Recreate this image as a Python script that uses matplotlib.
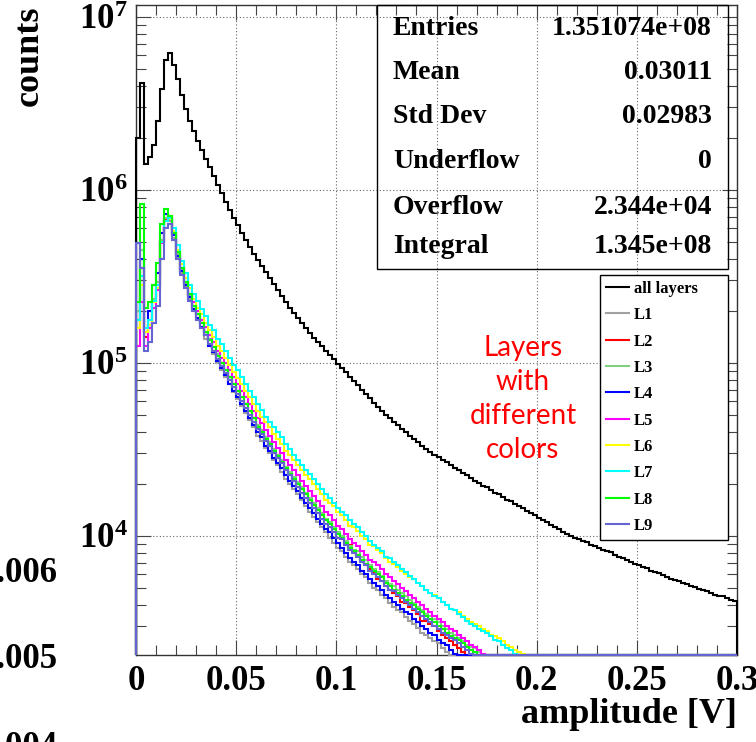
import numpy as np
import matplotlib
matplotlib.use("Agg")
import matplotlib.pyplot as plt
from matplotlib.patches import Rectangle
from matplotlib.ticker import MultipleLocator, LogLocator, FuncFormatter, NullFormatter

plt.rcParams["font.family"] = ["Liberation Serif", "DejaVu Serif"]
plt.rcParams["font.weight"] = "bold"
plt.rcParams["axes.labelweight"] = "bold"
plt.rcParams["mathtext.fontset"] = "custom"
plt.rcParams["mathtext.rm"] = "Liberation Serif:bold"
plt.rcParams["mathtext.it"] = "Liberation Serif:bold:italic"
plt.rcParams["mathtext.bf"] = "Liberation Serif:bold"
plt.rcParams["mathtext.default"] = "rm"

# ---------------------------------------------------------------- data
BIN_WIDTH = 0.002          # V per bin, bins start at 0 V
X_RANGE = (0.0, 0.3)
Y_RANGE = (2.05e3, 1.17e7)

# log10(counts per bin)
log_counts_all = [
    6.30, 6.62, 6.15, 6.19, 6.26, 6.40, 6.58, 6.75, 6.79, 6.72,
    6.64, 6.55, 6.47, 6.40, 6.34, 6.28, 6.23, 6.18, 6.13, 6.08,
    6.03, 5.98, 5.93, 5.885, 5.84, 5.795, 5.75, 5.71, 5.67, 5.63,
    5.595, 5.56, 5.525, 5.49, 5.455, 5.42, 5.385, 5.35, 5.32, 5.29,
    5.26, 5.23, 5.20, 5.17, 5.145, 5.12, 5.095, 5.07, 5.045, 5.02,
    4.995, 4.97, 4.945, 4.92, 4.895, 4.87, 4.845, 4.82, 4.795, 4.77,
    4.745, 4.72, 4.70, 4.68, 4.66, 4.64, 4.62, 4.60, 4.58, 4.56,
    4.54, 4.52, 4.50, 4.485, 4.47, 4.455, 4.44, 4.425, 4.41, 4.395,
    4.38, 4.365, 4.35, 4.335, 4.32, 4.305, 4.29, 4.28, 4.265, 4.25,
    4.24, 4.225, 4.21, 4.20, 4.185, 4.17, 4.16, 4.145, 4.13, 4.12,
    4.105, 4.09, 4.08, 4.065, 4.05, 4.04, 4.025, 4.01, 4.00, 3.99,
    3.98, 3.97, 3.965, 3.95, 3.94, 3.93, 3.92, 3.91, 3.905, 3.89,
    3.88, 3.87, 3.86, 3.85, 3.84, 3.83, 3.82, 3.815, 3.80, 3.79,
    3.785, 3.775, 3.765, 3.75, 3.745, 3.74, 3.73, 3.72, 3.71, 3.705,
    3.695, 3.685, 3.68, 3.67, 3.66, 3.655, 3.65, 3.64, 3.63, 3.625,
]

log_counts_L1 = [
    5.30, 5.60, 5.15, 5.22, 5.35, 5.45, 5.70, 5.82, 5.82, 5.72,
    5.61, 5.52, 5.44, 5.37, 5.30, 5.25, 5.20, 5.14, 5.10, 5.05,
    5.00, 4.96, 4.92, 4.88, 4.83, 4.79, 4.75, 4.71, 4.67, 4.63,
    4.58, 4.55, 4.51, 4.48, 4.44, 4.41, 4.37, 4.33, 4.30, 4.27,
    4.24, 4.21, 4.17, 4.14, 4.11, 4.08, 4.05, 4.02, 3.99, 3.96,
    3.93, 3.91, 3.88, 3.85, 3.83, 3.81, 3.78, 3.76, 3.73, 3.70,
    3.69, 3.66, 3.64, 3.61, 3.59, 3.57, 3.56, 3.53, 3.51, 3.49,
    3.47, 3.44, 3.43, 3.41, 3.39, 3.38, 3.35, 3.33, 3.31, 3.29,
]
log_counts_L2 = [
    5.20, 5.55, 5.15, 5.22, 5.35, 5.45, 5.70, 5.83, 5.84, 5.74,
    5.63, 5.54, 5.46, 5.39, 5.33, 5.28, 5.23, 5.18, 5.13, 5.09,
    5.04, 5.00, 4.96, 4.92, 4.88, 4.84, 4.80, 4.76, 4.72, 4.68,
    4.64, 4.61, 4.57, 4.54, 4.50, 4.47, 4.43, 4.40, 4.36, 4.33,
    4.30, 4.27, 4.24, 4.21, 4.18, 4.15, 4.12, 4.09, 4.07, 4.04,
    4.01, 3.99, 3.96, 3.95, 3.91, 3.89, 3.86, 3.84, 3.81, 3.79,
    3.75, 3.74, 3.71, 3.69, 3.67, 3.65, 3.62, 3.61, 3.59, 3.57,
    3.55, 3.51, 3.51, 3.49, 3.48, 3.45, 3.43, 3.41, 3.39, 3.37,
    3.35, 3.33, 3.31, 3.29,
]
log_counts_L3 = [
    5.30, 5.65, 5.20, 5.25, 5.37, 5.47, 5.71, 5.84, 5.84, 5.74,
    5.63, 5.54, 5.46, 5.39, 5.33, 5.28, 5.23, 5.18, 5.14, 5.09,
    5.05, 5.00, 4.96, 4.92, 4.88, 4.84, 4.80, 4.76, 4.72, 4.68,
    4.64, 4.61, 4.57, 4.54, 4.50, 4.47, 4.44, 4.40, 4.37, 4.34,
    4.31, 4.28, 4.25, 4.22, 4.19, 4.16, 4.13, 4.10, 4.08, 4.05,
    4.02, 4.00, 3.97, 3.94, 3.92, 3.91, 3.88, 3.86, 3.83, 3.81,
    3.79, 3.77, 3.74, 3.72, 3.71, 3.69, 3.67, 3.65, 3.63, 3.61,
    3.59, 3.57, 3.55, 3.54, 3.52, 3.50, 3.48, 3.46, 3.44, 3.43,
    3.41, 3.39, 3.37, 3.36, 3.35, 3.33, 3.31, 3.29,
]
log_counts_L4 = [
    5.25, 5.60, 5.18, 5.30, 5.45, 5.52, 5.75, 5.86, 5.83, 5.74,
    5.62, 5.53, 5.45, 5.38, 5.31, 5.26, 5.21, 5.16, 5.10, 5.06,
    5.01, 4.97, 4.93, 4.88, 4.84, 4.80, 4.76, 4.72, 4.68, 4.64,
    4.60, 4.57, 4.52, 4.49, 4.45, 4.42, 4.39, 4.35, 4.32, 4.29,
    4.26, 4.22, 4.19, 4.16, 4.13, 4.10, 4.07, 4.04, 4.02, 3.99,
    3.96, 3.93, 3.90, 3.87, 3.85, 3.83, 3.80, 3.78, 3.75, 3.73,
    3.71, 3.69, 3.66, 3.64, 3.62, 3.60, 3.58, 3.56, 3.55, 3.52,
    3.50, 3.48, 3.46, 3.44, 3.43, 3.40, 3.38, 3.37, 3.34, 3.32,
    3.30,
]
log_counts_L5 = [
    5.10, 5.35, 5.10, 5.20, 5.32, 5.42, 5.69, 5.82, 5.83, 5.75,
    5.64, 5.55, 5.47, 5.40, 5.35, 5.30, 5.25, 5.21, 5.16, 5.12,
    5.07, 5.03, 5.00, 4.96, 4.92, 4.88, 4.84, 4.80, 4.76, 4.72,
    4.68, 4.65, 4.61, 4.58, 4.54, 4.51, 4.48, 4.44, 4.41, 4.38,
    4.35, 4.32, 4.29, 4.26, 4.23, 4.20, 4.17, 4.14, 4.12, 4.09,
    4.06, 4.04, 4.01, 3.98, 3.96, 3.94, 3.91, 3.89, 3.86, 3.85,
    3.83, 3.81, 3.78, 3.76, 3.74, 3.72, 3.70, 3.68, 3.66, 3.64,
    3.62, 3.60, 3.58, 3.56, 3.54, 3.52, 3.50, 3.48, 3.46, 3.45,
    3.43, 3.41, 3.39, 3.37, 3.36, 3.34, 3.32, 3.31, 3.29,
]
log_counts_L6 = [
    5.20, 5.45, 5.18, 5.22, 5.35, 5.43, 5.70, 5.82, 5.83, 5.76,
    5.65, 5.57, 5.49, 5.43, 5.37, 5.32, 5.28, 5.23, 5.19, 5.15,
    5.10, 5.07, 5.03, 4.99, 4.95, 4.91, 4.88, 4.84, 4.80, 4.76,
    4.72, 4.69, 4.66, 4.63, 4.59, 4.56, 4.53, 4.49, 4.47, 4.44,
    4.41, 4.38, 4.35, 4.33, 4.30, 4.27, 4.24, 4.21, 4.19, 4.17,
    4.14, 4.12, 4.09, 4.06, 4.05, 4.03, 4.00, 3.98, 3.95, 3.94,
    3.92, 3.90, 3.87, 3.85, 3.84, 3.82, 3.80, 3.78, 3.76, 3.75,
    3.73, 3.71, 3.69, 3.67, 3.66, 3.64, 3.62, 3.60, 3.58, 3.57,
    3.56, 3.54, 3.52, 3.50, 3.49, 3.48, 3.46, 3.45, 3.43, 3.42,
    3.41, 3.39, 3.37, 3.36, 3.34, 3.33, 3.32, 3.31, 3.29,
]
log_counts_L7 = [
    5.25, 5.50, 5.20, 5.25, 5.36, 5.45, 5.70, 5.82, 5.84, 5.78,
    5.68, 5.59, 5.52, 5.45, 5.40, 5.36, 5.31, 5.27, 5.22, 5.19,
    5.14, 5.11, 5.07, 5.03, 4.99, 4.96, 4.92, 4.88, 4.84, 4.80,
    4.76, 4.73, 4.69, 4.66, 4.63, 4.60, 4.57, 4.53, 4.50, 4.47,
    4.44, 4.41, 4.38, 4.36, 4.33, 4.30, 4.27, 4.24, 4.22, 4.19,
    4.16, 4.14, 4.12, 4.09, 4.07, 4.05, 4.02, 4.00, 3.97, 3.95,
    3.93, 3.91, 3.88, 3.87, 3.85, 3.83, 3.81, 3.79, 3.77, 3.75,
    3.73, 3.71, 3.69, 3.67, 3.65, 3.64, 3.62, 3.60, 3.58, 3.57,
    3.55, 3.53, 3.51, 3.49, 3.48, 3.46, 3.45, 3.44, 3.42, 3.40,
    3.39, 3.37, 3.35, 3.34, 3.32, 3.31, 3.29,
]
log_counts_L8 = [
    5.35, 5.92, 5.32, 5.35, 5.45, 5.58, 5.80, 5.89, 5.85, 5.75,
    5.64, 5.55, 5.47, 5.40, 5.33, 5.28, 5.23, 5.18, 5.13, 5.09,
    5.04, 5.00, 4.96, 4.92, 4.88, 4.84, 4.80, 4.76, 4.72, 4.68,
    4.63, 4.60, 4.56, 4.53, 4.49, 4.46, 4.43, 4.39, 4.36, 4.33,
    4.30, 4.27, 4.24, 4.21, 4.18, 4.15, 4.12, 4.09, 4.07, 4.04,
    4.01, 3.99, 3.96, 3.93, 3.91, 3.89, 3.86, 3.84, 3.82, 3.80,
    3.78, 3.76, 3.73, 3.71, 3.69, 3.67, 3.65, 3.63, 3.61, 3.60,
    3.58, 3.56, 3.54, 3.52, 3.50, 3.48, 3.46, 3.44, 3.42, 3.41,
    3.40, 3.38, 3.36, 3.34, 3.33, 3.31, 3.29,
]
log_counts_L9 = [
    5.69, 5.55, 5.07, 5.12, 5.23, 5.33, 5.60, 5.78, 5.80, 5.71,
    5.60, 5.51, 5.43, 5.36, 5.30, 5.25, 5.20, 5.16, 5.11, 5.07,
    5.02, 4.98, 4.94, 4.90, 4.86, 4.82, 4.78, 4.74, 4.70, 4.66,
    4.62, 4.59, 4.55, 4.52, 4.48, 4.45, 4.42, 4.38, 4.35, 4.32,
    4.28, 4.25, 4.22, 4.19, 4.16, 4.13, 4.10, 4.07, 4.05, 4.02,
    3.99, 3.98, 3.95, 3.92, 3.90, 3.88, 3.85, 3.83, 3.80, 3.78,
    3.76, 3.74, 3.71, 3.69, 3.68, 3.66, 3.64, 3.62, 3.60, 3.58,
    3.56, 3.54, 3.52, 3.50, 3.48, 3.46, 3.44, 3.43, 3.41, 3.40,
    3.38, 3.36, 3.34, 3.32, 3.31, 3.29,
]

layer_names = ["L1", "L2", "L3", "L4", "L5", "L6", "L7", "L8", "L9"]
layer_series = [log_counts_L1, log_counts_L2, log_counts_L3, log_counts_L4,
                log_counts_L5, log_counts_L6, log_counts_L7, log_counts_L8,
                log_counts_L9]
layer_colors = ["#a0a0a0", "#ff0000", "#80d080", "#0000ff", "#ff00ff",
                "#ffff00", "#00ffff", "#00ff00", "#6464d2"]

stat_names = ["Entries", "Mean", "Std Dev", "Underflow", "Overflow", "Integral"]
stat_values = ["1.351074e+08", "0.03011", "0.02983", "0", "2.344e+04", "1.345e+08"]

side_panel_ticks = ["0.006", "0.005", "0.004"]

# ---------------------------------------------------------------- figure
W, H = 756, 742
fig = plt.figure(figsize=(W / 100, H / 100), dpi=100)
ax = fig.add_axes([136 / W, 1 - 655 / H, 601 / W, 650 / H])
ax.set_yscale("log")
ax.set_xlim(*X_RANGE)
ax.set_ylim(*Y_RANGE)

LW = 1.5


def draw_hist(log_vals, color, label, z):
    counts = 10.0 ** np.asarray(log_vals)
    edges = np.arange(len(counts) + 1) * BIN_WIDTH
    shown = np.maximum(counts, Y_RANGE[0])      # empty bins sit on the floor
    h = ax.stairs(shown, edges, baseline=Y_RANGE[0], color=color, lw=LW,
                  label=label, zorder=z, clip_on=False)
    if edges[-1] < X_RANGE[1] - 1e-9:
        ax.plot([edges[-1], X_RANGE[1]], [Y_RANGE[0], Y_RANGE[0]], color=color,
                lw=LW, zorder=z, clip_on=False, solid_capstyle="butt")
    return h


handles = [draw_hist(log_counts_all, "black", "all layers", 3)]
for i, (vals, name, col) in enumerate(zip(layer_series, layer_names, layer_colors)):
    handles.append(draw_hist(vals, col, name, 4 + i))

# axes styling
ax.xaxis.set_major_locator(MultipleLocator(0.05))
ax.xaxis.set_minor_locator(MultipleLocator(0.01))
ax.xaxis.set_major_formatter(FuncFormatter(lambda v, _: f"{v:g}" if abs(v) > 1e-9 else "0"))
ax.yaxis.set_major_locator(LogLocator(base=10, numticks=20))
ax.yaxis.set_minor_locator(LogLocator(base=10, subs=np.arange(2, 10), numticks=20))
ax.yaxis.set_minor_formatter(NullFormatter())
ax.yaxis.set_major_formatter(FuncFormatter(lambda v, _: rf"$10^{{{int(round(np.log10(v)))}}}$"))

ax.tick_params(which="both", direction="in", top=True, right=True,
               color="#444444", width=0.8, labelsize=25)
ax.tick_params(which="major", length=11)
ax.tick_params(which="minor", length=7)
ax.tick_params(axis="x", which="major", pad=7)
ax.tick_params(axis="y", which="major", pad=6)
for s in ax.spines.values():
    s.set_color("#333333")
    s.set_linewidth(1.0)

ax.grid(True, which="major", linestyle=(0, (1, 2)), color="#666666", lw=0.8)
ax.set_axisbelow(True)

ax.set_xlabel("amplitude [V]", fontsize=26, fontweight="bold", loc="right")
ax.xaxis.set_label_coords(1.0, -0.066)
ax.set_ylabel("counts", fontsize=26, fontweight="bold", loc="top")
ax.yaxis.set_label_coords(-0.15, 1.0)

# statistics box
ax.add_patch(Rectangle((0.401, 0.594), 0.584, 0.406, transform=ax.transAxes,
                       fill=False, edgecolor="black", lw=1.0, zorder=20, clip_on=False))
row_y = [0.9646, 0.8969, 0.8277, 0.760, 0.6892, 0.6277]
for name, val, yy in zip(stat_names, stat_values, row_y):
    ax.text(0.4276, yy, name, transform=ax.transAxes, fontsize=20,
            ha="left", va="center", zorder=21)
    ax.text(0.9584, yy, val, transform=ax.transAxes, fontsize=20,
            ha="right", va="center", zorder=21)

# legend
leg = ax.legend(handles=handles, loc="upper left",
                bbox_to_anchor=(0.772, 0.1769, 0.213, 0.4077), mode="expand",
                borderaxespad=0.0, fontsize=12, frameon=True, fancybox=False,
                edgecolor="black", framealpha=1.0, handlelength=1.4,
                handletextpad=0.3, labelspacing=0.62, borderpad=0.35)
leg.get_frame().set_linewidth(1.0)
leg.set_zorder(30)

# annotation
ax.text(0.644, 0.394, "Layers\nwith\ndifferent\ncolors", transform=ax.transAxes,
        color="#ff0000", fontsize=20, family=["Lato", "DejaVu Sans"],
        weight="normal", ha="center", va="center", linespacing=1.37, zorder=25)

# tick labels of the adjacent panel on the left
for txt, yc in zip(side_panel_ticks, [574, 660, 747]):
    fig.text(58 / W, 1 - yc / H, txt, fontsize=25, ha="right", va="center")

fig.savefig("out.png", dpi=100)
